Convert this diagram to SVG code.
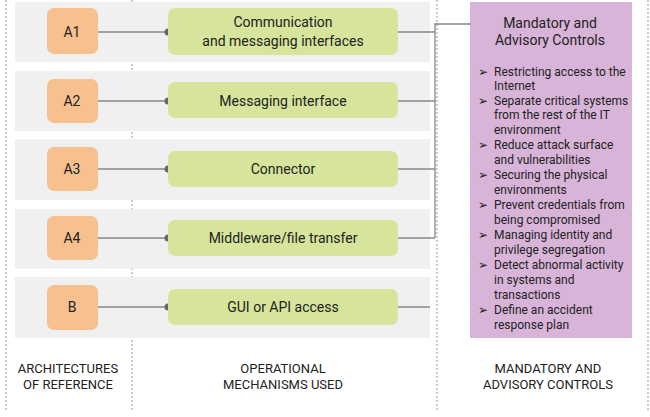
<svg xmlns="http://www.w3.org/2000/svg" width="650" height="417" viewBox="0 0 650 417">
<style>
text{font-family:Roboto,"Liberation Sans",sans-serif;fill:#222}
.band{fill:#f0f0f0}
.or{fill:#f6c08f}
.gr{fill:#d6e59b}
.dash{stroke:#999;stroke-dasharray:2,2;fill:none}
.ln{stroke:#888;stroke-width:1.3;fill:none}
.t{font-size:14px;text-anchor:middle}
.s{font-size:12px}
.h{font-size:13px;text-anchor:middle}
</style>
<rect width="650" height="417" fill="#fff"/>
<line class="dash" x1="6" y1="0" x2="6" y2="410"/>
<line class="dash" x1="132" y1="0" x2="132" y2="410"/>
<line class="dash" x1="437" y1="0" x2="437" y2="410"/>
<line class="dash" x1="648" y1="0" x2="648" y2="410"/>
<rect class="band" x="15" y="2" width="415" height="60"/>
<rect class="band" x="15" y="71" width="415" height="60"/>
<rect class="band" x="15" y="139" width="415" height="61"/>
<rect class="band" x="15" y="209" width="415" height="60"/>
<rect class="band" x="15" y="277" width="415" height="61"/>
<g id="connectors">
<path class="ln" d="M97 32H168M97 101H168M97 169H168M97 238H168M97 307H168"/>
<path class="ln" d="M398 32H435M398 101H435M398 169H435M398 238H435M398 307H430"/>
<path class="ln" d="M435 238V24H473"/>
<g fill="#666"><circle cx="168" cy="32" r="3.5"/><circle cx="168" cy="101" r="3.5"/><circle cx="168" cy="169" r="3.5"/><circle cx="168" cy="238" r="3.5"/><circle cx="168" cy="307" r="3.5"/><circle cx="473" cy="24" r="3.5"/></g>
</g>
<g id="A1"><rect class="or" x="47" y="8" width="51" height="46" rx="7"/><text class="t" x="72" y="37">A1</text></g>
<g id="A2"><rect class="or" x="47" y="79" width="51" height="44" rx="7"/><text class="t" x="72" y="106">A2</text></g>
<g id="A3"><rect class="or" x="47" y="147" width="51" height="44" rx="7"/><text class="t" x="72" y="174">A3</text></g>
<g id="A4"><rect class="or" x="47" y="216" width="51" height="44" rx="7"/><text class="t" x="72" y="243">A4</text></g>
<g id="B"><rect class="or" x="47" y="285" width="51" height="45" rx="7"/><text class="t" x="72" y="312">B</text></g>
<g id="G1"><rect class="gr" x="168" y="8" width="230" height="47" rx="7"/><text class="t" x="283" y="27">Communication</text><text class="t" x="283" y="46">and messaging interfaces</text></g>
<g id="G2"><rect class="gr" x="168" y="82" width="230" height="36" rx="7"/><text class="t" x="283" y="106">Messaging interface</text></g>
<g id="G3"><rect class="gr" x="168" y="151" width="230" height="36" rx="7"/><text class="t" x="283" y="174">Connector</text></g>
<g id="G4"><rect class="gr" x="168" y="220" width="230" height="36" rx="7"/><text class="t" x="283" y="243">Middleware/file transfer</text></g>
<g id="G5"><rect class="gr" x="168" y="289" width="230" height="36" rx="7"/><text class="t" x="283" y="312">GUI or API access</text></g>
<g id="controls">
<rect x="470" y="2" width="162" height="336" fill="#d8b4d8"/>
<text class="t" x="550" y="28" font-size="13.5">Mandatory  and</text>
<text class="t" x="550" y="45" font-size="13.5">Advisory Controls</text>
<g class="s">
<text x="478" y="76">➢</text><text x="494" y="76">Restricting access to the</text><text x="494" y="90">Internet</text>
<text x="478" y="105">➢</text><text x="494" y="105">Separate critical systems</text><text x="494" y="119">from the rest of the IT</text><text x="494" y="134">environment</text>
<text x="478" y="149">➢</text><text x="494" y="149">Reduce attack surface</text><text x="494" y="164">and vulnerabilities</text>
<text x="478" y="179">➢</text><text x="494" y="179">Securing the physical</text><text x="494" y="194">environments</text>
<text x="478" y="209">➢</text><text x="494" y="209">Prevent credentials from</text><text x="494" y="224">being compromised</text>
<text x="478" y="239">➢</text><text x="494" y="239">Managing identity and</text><text x="494" y="254">privilege segregation</text>
<text x="478" y="269">➢</text><text x="494" y="269">Detect abnormal activity</text><text x="494" y="284">in systems and</text><text x="494" y="299">transactions</text>
<text x="478" y="314">➢</text><text x="494" y="314">Define an accident</text><text x="494" y="329">response plan</text>
</g>
</g>
<g id="headers">
<text class="h" x="68" y="373">ARCHITECTURES</text><text class="h" x="68" y="389">OF REFERENCE</text>
<text class="h" x="283" y="373">OPERATIONAL</text><text class="h" x="283" y="389">MECHANISMS USED</text>
<text class="h" x="548" y="373">MANDATORY  AND</text><text class="h" x="548" y="389">ADVISORY CONTROLS</text>
</g>
</svg>
